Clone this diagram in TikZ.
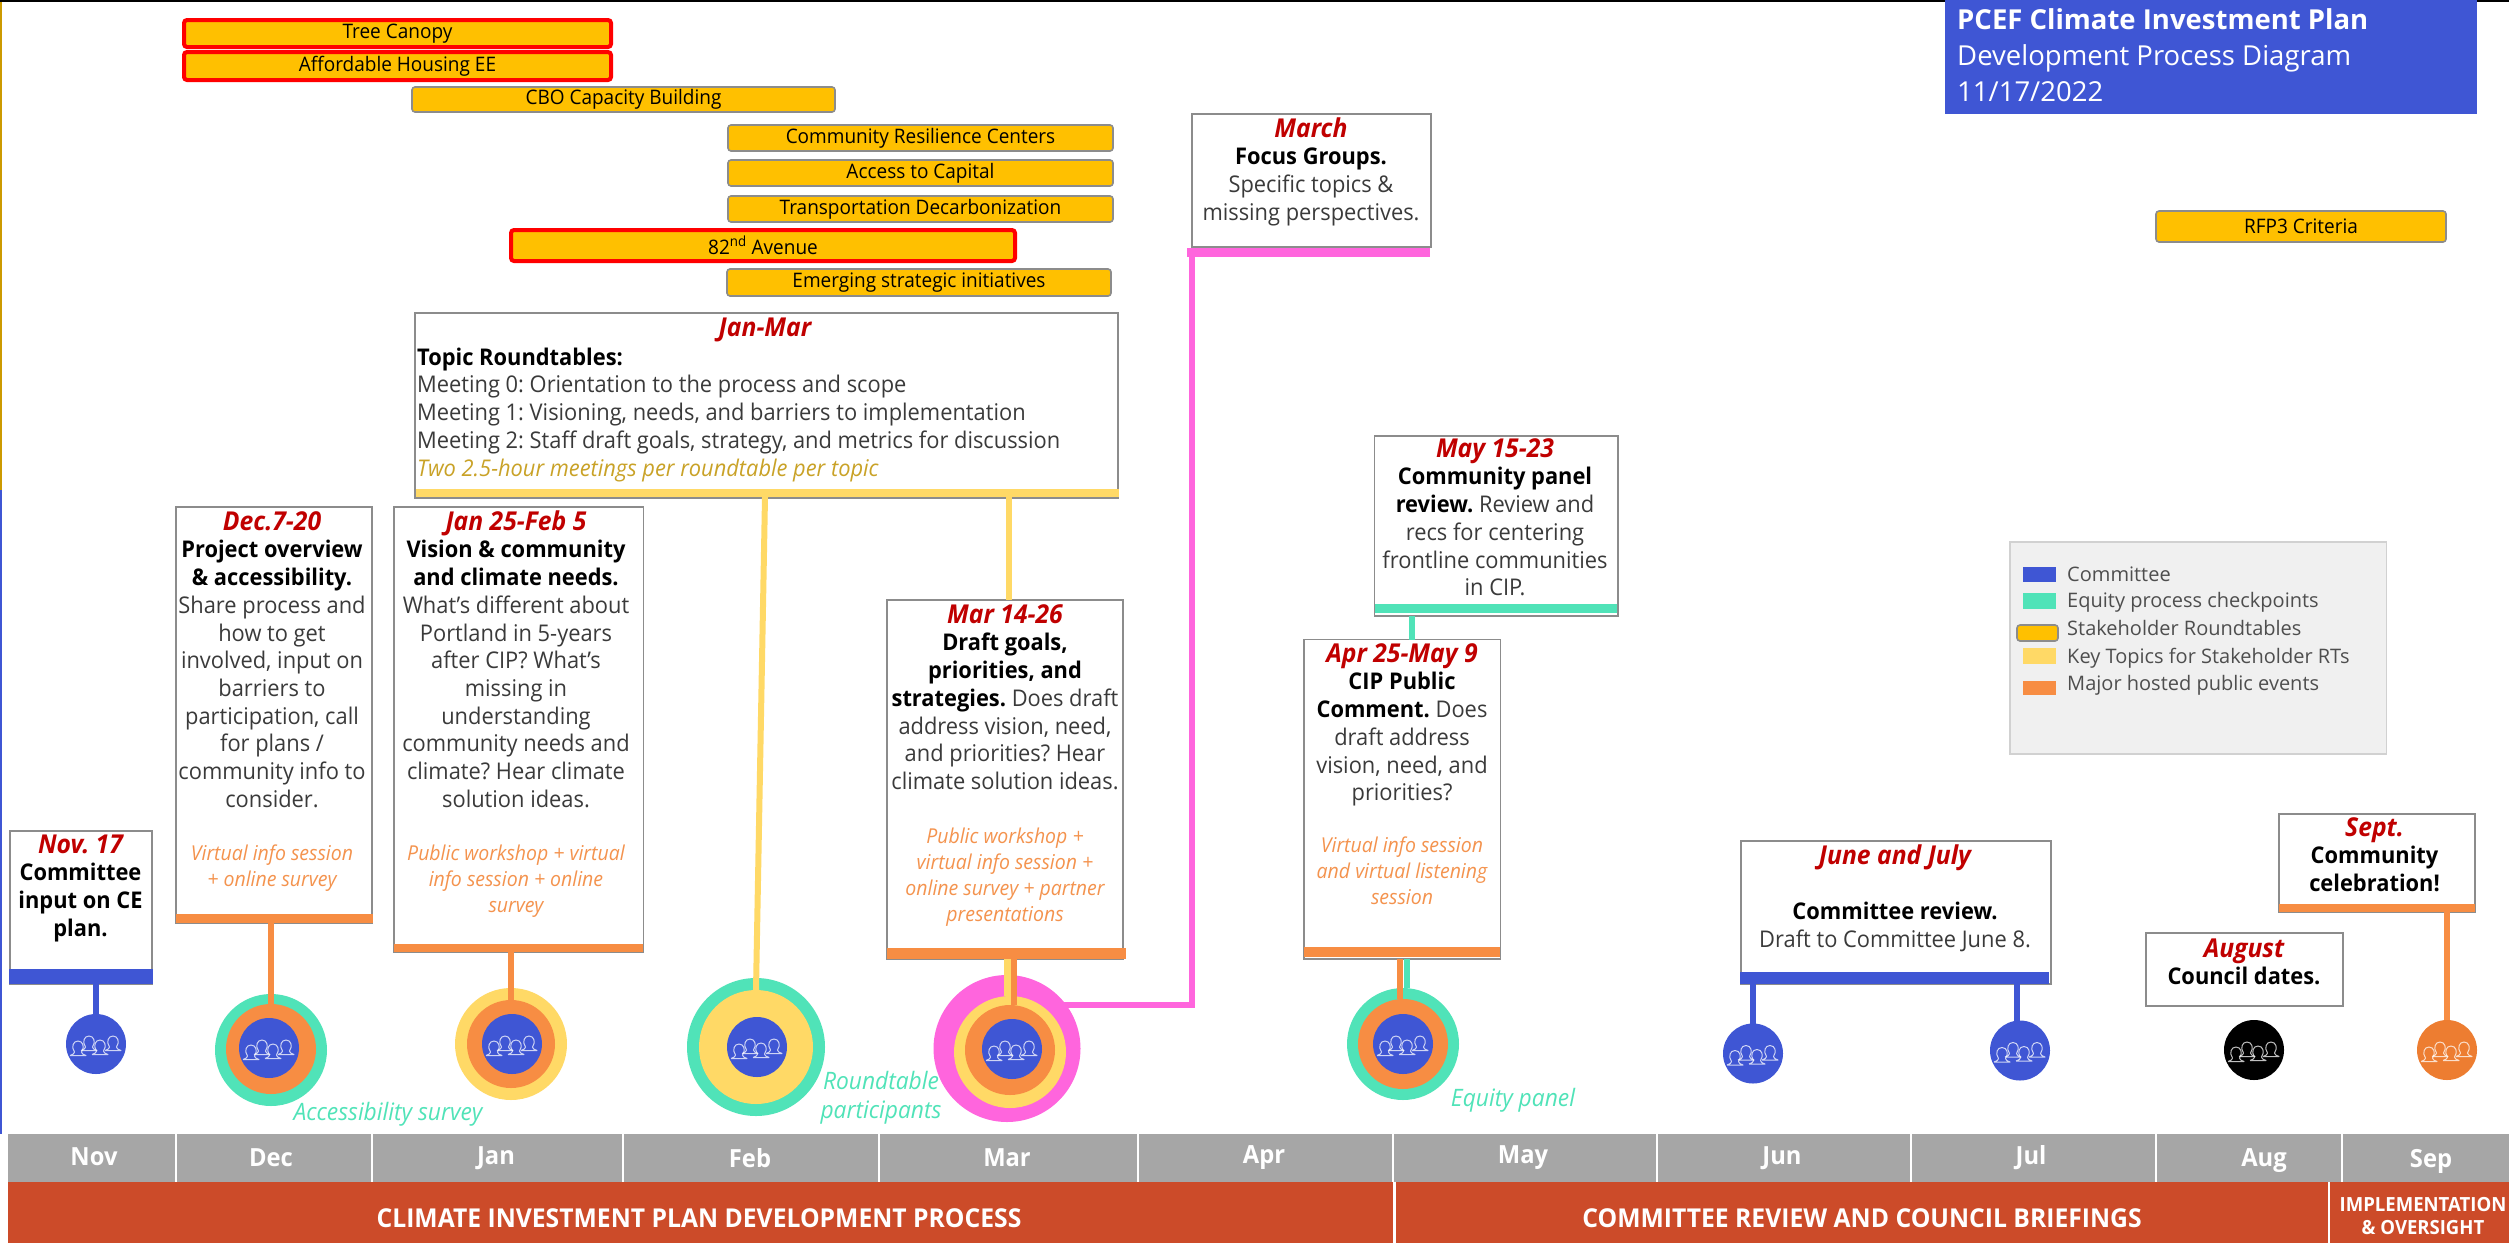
\documentclass[tikz,border=0pt]{standalone}
\usepackage{fontspec}
\setmainfont[FakeStretch=0.95]{Open Sans}
\newfontfamily\widefont{Open Sans}
\AtBeginDocument{\frenchspacing}
\definecolor{cblue}{HTML}{3F56D4}
\definecolor{cteal}{HTML}{50E3B8}
\definecolor{corange}{HTML}{F78D43}
\definecolor{cyellow}{HTML}{FFD966}
\definecolor{cgold}{HTML}{FFC000}
\definecolor{cpink}{HTML}{FF65DD}
\definecolor{cdate}{HTML}{C00000}
\definecolor{cband}{HTML}{CC4B29}
\definecolor{cmonth}{HTML}{A6A6A6}
\definecolor{cline}{HTML}{8C8C8C}
\definecolor{cbody}{HTML}{3A3A3A}
\definecolor{cital}{HTML}{F4934E}
\definecolor{citgold}{HTML}{C9A227}
\definecolor{cdisc}{HTML}{ED7D31}
\newcommand{\dt}[1]{{\fontsize{26}{27.7}\selectfont\color{cdate}\bfseries\itshape #1}}
\newcommand{\bt}[1]{{\color{black}\bfseries #1}}
\newcommand{\st}{\rule{0pt}{20pt}}
\newcommand{\rectnode}[6]{\node[inner sep=0pt,outer sep=0pt,anchor=north west,minimum width={(#4-#2)*1pt},minimum height={(#5-#3)*1pt},#6] (#1) at (#2,#3) {};}
\newcommand{\gbar}[7]{\node[inner sep=0pt,outer sep=0pt,anchor=north west,font=\fontsize{20}{24}\selectfont,text=black,minimum width={(#4-#2)*1pt},minimum height={(#5-#3)*1pt},#6] (#1) at (#2,#3) {\raisebox{-2pt}{#7}};}
\newcommand{\disc}[5]{\node[circle,inner sep=0pt,outer sep=0pt,minimum size={2*#4*1pt},fill=#5] (#1) at (#2,#3) {};}
\tikzset{
  x=1pt,y=-1pt,
  evbox/.style={draw=cline,line width=1.4pt,fill=white},
  body/.style={font=\fontsize{23}{27.7}\selectfont,text=cbody,align=center,inner sep=0pt,anchor=north},
  ital/.style={font=\fontsize{20.5}{26}\selectfont\itshape,text=cital,align=center,inner sep=0pt,anchor=north},
  goldbar/.style={draw=cline,line width=1.6pt,fill=cgold,rounded corners=3pt},
  redbar/.style={draw=red,line width=4pt,fill=cgold,rounded corners=3pt},
  evbar/.style={fill=#1},
  conn/.style={line width=6pt,draw=#1},
  note/.style={font=\fontsize{24}{29}\selectfont\itshape,text=cteal,align=center,inner sep=0pt},
  monthlab/.style={font=\fontsize{25}{28}\selectfont\bfseries,text=white,inner sep=0pt},
  bandlab/.style={font=\fontsize{26}{27}\selectfont\bfseries,text=white,inner sep=0pt,align=center},
  legendlab/.style={font=\widefont\fontsize{20}{22}\selectfont,text=cbody!90,inner sep=0pt,anchor=base west},
  sepline/.style={draw=white,line width=1.5pt},
  pics/crowd/.style={code={
    \foreach \px/\py in {-18/0, -7/-5, 4/-1, 17/-5}{
      \begin{scope}[shift={(\px,\py)}]
      \draw[white,opacity=.75,line width=1pt,line join=round]
        (-8,11.5) -- (8,11.5) .. controls (5,10) and (3.5,10) .. (3.5,8)
        .. controls (7,3) and (5,-3) .. (0,-3) .. controls (-5,-3) and (-7,3) .. (-3.5,8)
        .. controls (-3.5,10) and (-5,10) .. (-8,11.5);
      \end{scope}
    }
  }}
}
\begin{document}
\begin{tikzpicture}
\path[use as bounding box] (0,0) rectangle (2509,1243);
\fill[white] (0,0) rectangle (2509,1243);
% page edge
\fill[black] (0,0) rectangle (2509,2);
\fill[cgold!80!black] (0,2) rectangle (1.5,490);
\fill[cblue] (0,490) rectangle (1.5,1134);

% title
\rectnode{title}{1945}{0}{2477}{114}{fill=cblue}
\node[font=\widefont\fontsize{27.5}{36}\selectfont,text=white,align=left,inner sep=0pt,anchor=north west] (titletext) at (1957,8) {\textbf{PCEF Climate Investment Plan}\\Development Process Diagram\\11/17/2022};

% roundtable bars
\gbar{bTree}{184}{20}{611}{47}{redbar}{Tree Canopy}
\gbar{bHous}{184}{52}{611}{80}{redbar}{Affordable Housing EE}
\gbar{bCbo}{412}{87}{835}{112}{goldbar}{CBO Capacity Building}
\gbar{bCrc}{728}{125}{1113}{151}{goldbar}{Community Resilience Centers}
\gbar{bCap}{728}{160}{1113}{186}{goldbar}{Access to Capital}
\gbar{bTra}{728}{196}{1113}{222}{goldbar}{Transportation Decarbonization}
\gbar{bAve}{511}{230}{1015}{261}{redbar}{82\textsuperscript{nd} Avenue}
\gbar{bEme}{727}{269}{1111}{296}{goldbar}{Emerging strategic initiatives}
\gbar{bRfp}{2156}{211}{2446}{242}{goldbar}{RFP3 Criteria}

% discs
\disc{cNov}{96}{1044}{30}{cblue}
\disc{cDecT}{271}{1050}{56}{cteal}
\disc{cDecO}{271}{1049}{45}{corange}
\disc{cDec}{269}{1048}{30}{cblue}
\disc{cJanY}{511}{1044}{56}{cyellow}
\disc{cJanO}{511}{1044}{44}{corange}
\disc{cJan}{512}{1044}{30}{cblue}
\disc{cFebT}{756}{1047}{69}{cteal}
\disc{cFebY}{756}{1047}{57}{cyellow}
\disc{cFeb}{757}{1047}{30}{cblue}
\disc{cMarP}{1007}{1048.5}{73.5}{cpink}
\disc{cMarY}{1010}{1052}{56}{cyellow}
\disc{cMarO}{1010}{1050}{45}{corange}
\disc{cMar}{1012}{1049}{30}{cblue}
\disc{cAprT}{1403}{1044}{56}{cteal}
\disc{cAprO}{1403}{1044}{45}{corange}
\disc{cApr}{1403}{1044}{30}{cblue}
\disc{cJun}{1753}{1053.5}{30}{cblue}
\disc{cJul}{2020}{1050.5}{30}{cblue}
\disc{cAug}{2254}{1050}{30}{black}
\disc{cSep}{2447}{1050}{30}{cdisc}
\foreach \c in {cNov,cDec,cJan,cFeb,cMar,cApr,cJun,cJul,cAug,cSep}{\pic at (\c) {crowd};}

% event boxes and bars
\rectnode{bxNov}{10}{831}{152}{984}{evbox}
\rectnode{brNov}{9}{969}{153}{984}{evbar=cblue}
\rectnode{bxDec}{176}{507}{372}{923}{evbox}
\rectnode{brDec}{176}{914}{373}{923}{evbar=corange}
\rectnode{bxJan}{394}{507}{643.5}{952.5}{evbox}
\rectnode{brJan}{394}{944}{643}{952}{evbar=corange}
\rectnode{bxTop}{415}{313}{1118}{498}{evbox}
\rectnode{brTop}{416}{489}{1119}{497}{evbar=cyellow}
\rectnode{bxMar}{887}{600}{1123}{959}{evbox}
\rectnode{brMar}{887}{948}{1126}{959}{evbar=corange}
\rectnode{bxFoc}{1192}{114}{1431}{247}{evbox}
\rectnode{brFoc}{1187}{248}{1430}{257}{evbar=cpink}
\rectnode{bxPan}{1374.5}{436}{1618}{616}{evbox}
\rectnode{brPan}{1375}{604}{1617}{613}{evbar=cteal}
\rectnode{bxApr}{1304}{639.5}{1500.5}{959}{evbox}
\rectnode{brApr}{1304}{947}{1500}{957}{evbar=corange}
\rectnode{bxJun}{1741}{841}{2051}{984}{evbox}
\rectnode{brJun}{1740}{972}{2049}{984}{evbar=cblue}
\rectnode{bxAug}{2146}{933}{2343}{1006}{evbox}
\rectnode{bxSep}{2279}{814}{2475}{912}{evbox}
\rectnode{brSep}{2279}{903.5}{2475}{912}{evbar=corange}

% connectors
\coordinate (feTop) at (765,497);
\coordinate (maTop) at (1009,497);
\coordinate (maYel) at (1007,959);
\coordinate (maOra) at (1014,959);
\coordinate (maPin) at (1192,1005);
\coordinate (foPin) at (1192,250);
\coordinate (apOra) at (1400,959);
\coordinate (apTea) at (1407,959);
\coordinate (paTea) at (1412,616);
\coordinate (juTwo) at (2017,984);
\draw[conn=cblue] (brNov.south -| cNov) -- (cNov.north);
\draw[conn=corange] (brDec.south -| cDecO) -- (cDecO.north);
\draw[conn=corange] (brJan.south -| cJanO) -- (cJanO.north);
\draw[conn=cyellow] (feTop) -- (cFebY.north);
\draw[conn=cyellow] (maTop) -- (maTop |- bxMar.north);
\draw[conn=cyellow,line width=7pt] (maYel) -- (maYel |- cMarY.north);
\draw[conn=corange] (maOra) -- (maOra |- cMarO.north);
\draw[conn=cpink,line join=miter] (cMarP.north east |- maPin) ++(-2,0) -- (maPin) -- (foPin);
\draw[conn=cteal] (paTea) -- (paTea |- bxApr.north);
\draw[conn=cteal] (apTea) -- (apTea |- cAprT.north);
\draw[conn=corange] (apOra) -- (apOra |- cAprO.north);
\draw[conn=cblue] (brJun.south -| cJun) -- (cJun.north);
\draw[conn=cblue] (juTwo) -- (juTwo |- cJul.north);
\draw[conn=corange] (brSep.south -| cSep) -- (cSep.north);

% box text
\node[body] (tNov) at (80.5,833) {\st\dt{Nov. 17}\\\bt{Committee}\\\bt{input on CE}\\\bt{plan.}};
\node[body] (tDec) at (272,510) {\st\dt{Dec.7-20}\\\bt{Project overview}\\\bt{\& accessibility.}\\Share process and\\how to get\\involved, input on\\barriers to\\participation, call\\for plans /\\community info to\\consider.};
\node[ital] (iDec) at (272,840) {\st Virtual info session\\+ online survey};
\node[body] (tJan) at (516,510) {\st\dt{Jan 25-Feb 5}\\\bt{Vision \& community}\\\bt{and climate needs.}\\What's different about\\Portland in 5-years\\after CIP? What's\\missing in\\understanding\\community needs and\\climate? Hear climate\\solution ideas.};
\node[ital] (iJan) at (516,840) {\st Public workshop + virtual\\info session + online\\survey};
\node[body] (tTopD) at (765,316) {\st\dt{Jan-Mar}};
\node[body,align=left,anchor=north west] (tTop) at (417,345) {\st\bt{Topic Roundtables:}\\Meeting 0: Orientation to the process and scope\\Meeting 1: Visioning, needs, and barriers to implementation\\Meeting 2: Staff draft goals, strategy, and metrics for discussion\\{\color{citgold}\itshape Two 2.5-hour meetings per roundtable per topic}};
\node[body] (tMar) at (1005,603) {\st\dt{Mar 14-26}\\\bt{Draft goals,}\\\bt{priorities, and}\\\bt{strategies.} Does draft\\address vision, need,\\and priorities? Hear\\climate solution ideas.};
\node[ital] (iMar) at (1005,823) {\st Public workshop +\\virtual info session +\\online survey + partner\\presentations};
\node[body] (tFoc) at (1311,117) {\st\dt{March}\\\bt{Focus Groups.}\\Specific topics \&\\missing perspectives.};
\node[body] (tPan) at (1495,437) {\st\dt{May 15-23}\\\bt{Community panel}\\\bt{review.} Review and\\recs for centering\\frontline communities\\in CIP.};
\node[body] (tApr) at (1402,642) {\st\dt{Apr 25-May 9}\\\bt{CIP Public}\\\bt{Comment.} Does\\draft address\\vision, need, and\\priorities?};
\node[ital] (iApr) at (1402,832) {\st Virtual info session\\and virtual listening\\session};
\node[body] (tJun) at (1895,844) {\st\dt{June and July}\\ \\\bt{Committee review.}\\Draft to Committee June 8.};
\node[body] (tAug) at (2244,937) {\st\dt{August}\\\bt{Council dates.}};
\node[body] (tSep) at (2374.5,816) {\st\dt{Sept.}\\\bt{Community}\\\bt{celebration!}};

% circle notes
\node[note] (nAcc) at (388,1114) {Accessibility survey};
\node[note] (nRnd) at (881,1098) {Roundtable\\participants};
\node[note] (nEqu) at (1513,1100) {Equity panel};

% legend
\rectnode{leg}{2010}{542}{2386.5}{754}{fill=black!6,draw=black!18,line width=1.5pt}
\rectnode{lgA}{2023}{567}{2056}{582}{fill=cblue}
\rectnode{lgB}{2023}{593}{2056}{609}{fill=cteal}
\rectnode{lgC}{2017}{625}{2058}{641}{goldbar}
\rectnode{lgD}{2023}{648}{2056}{664}{fill=cyellow}
\rectnode{lgE}{2023}{681}{2056}{695}{fill=corange}
\node[legendlab] (ltA) at (2067,581) {Committee};
\node[legendlab] (ltB) at (2067,607) {Equity process checkpoints};
\node[legendlab] (ltC) at (2067,635) {Stakeholder Roundtables};
\node[legendlab] (ltD) at (2067,663) {Key Topics for Stakeholder RTs};
\node[legendlab] (ltE) at (2067,690) {Major hosted public events};

% timeline
\rectnode{months}{8}{1134}{2509}{1182}{fill=cmonth}
\rectnode{bandA}{8}{1182}{1393}{1243}{fill=cband}
\rectnode{bandB}{1396}{1182}{2328}{1243}{fill=cband}
\rectnode{bandC}{2330}{1182}{2509}{1243}{fill=cband}
\foreach \sx in {176,372,623,879,1138,1393,1657,1911,2156,2342}{\draw[sepline] (\sx,1134) -- (\sx,1182);}
\node[monthlab] (mNov) at (94,1157) {Nov};
\node[monthlab] (mDec) at (271,1158) {Dec};
\node[monthlab] (mJan) at (496,1158) {Jan};
\node[monthlab] (mFeb) at (750,1158) {Feb};
\node[monthlab] (mMar) at (1007,1158) {Mar};
\node[monthlab] (mApr) at (1264,1158) {Apr};
\node[monthlab] (mMay) at (1523,1158) {May};
\node[monthlab] (mJun) at (1782,1158) {Jun};
\node[monthlab] (mJul) at (2031,1158) {Jul};
\node[monthlab] (mAug) at (2264,1161) {Aug};
\node[monthlab] (mSep) at (2431,1161) {Sep};
\node[bandlab] (lA) at (699,1218) {CLIMATE INVESTMENT PLAN DEVELOPMENT PROCESS};
\node[bandlab] (lB) at (1862,1218) {COMMITTEE REVIEW AND COUNCIL BRIEFINGS};
\node[bandlab,font=\fontsize{19.5}{23}\selectfont\bfseries] (lC) at (2423,1216) {IMPLEMENTATION\\\& OVERSIGHT};
\end{tikzpicture}
\end{document}
